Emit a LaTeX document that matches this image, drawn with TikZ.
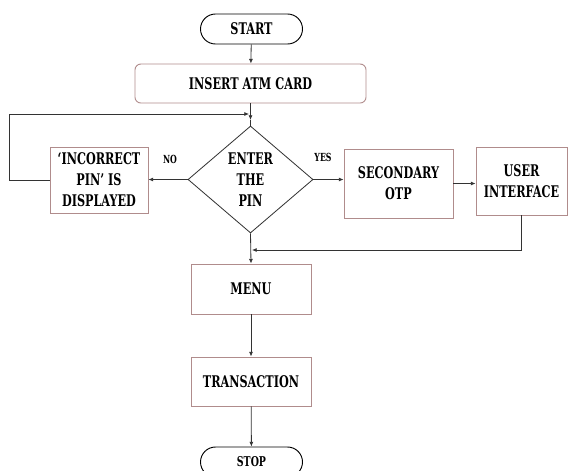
\documentclass[tikz,border=0pt]{standalone}
\usepackage{fontspec}
\newfontfamily\flowfont{DejaVu Serif}[FakeStretch=0.7]
\usetikzlibrary{shapes.geometric,shapes.misc,arrows.meta}
\definecolor{boxline}{HTML}{B08C8C}
\definecolor{arrline}{HTML}{333333}
\begin{document}
\begin{tikzpicture}[x=0.03cm,y=-0.03cm,
  font=\flowfont\bfseries\fontsize{13.7}{18}\selectfont,
  >={Latex[length=4pt,width=3.5pt]},
  terminal/.style={rounded rectangle,draw=black,line width=0.8pt,minimum width=3.06cm,minimum height=0.9cm,inner sep=0pt},
  stepbox/.style={rectangle,draw=boxline,line width=0.8pt,align=center,inner sep=0pt},
  choice/.style={diamond,draw=arrline,line width=0.7pt,align=center,inner sep=0pt,minimum width=3.75cm,minimum height=3.21cm},
  lbl/.style={font=\flowfont\bfseries\fontsize{9.5}{11}\selectfont},
  conn/.style={draw=arrline,line width=0.7pt}]
\clip (0,0) rectangle (568,470);
%
\node[terminal] (start) at (251.5,29) {START};
\node[stepbox,rounded corners=5pt,minimum width=6.93cm,minimum height=1.17cm] (insert) at (250.5,83.5) {INSERT ATM CARD};
\node[choice] (pin) at (250.5,179.5) {ENTER\\THE\\PIN};
%
\node[stepbox,minimum width=2.94cm,minimum height=1.98cm] (wrong) at (99,180) {‘INCORRECT\\PIN’ IS\\DISPLAYED};
\node[stepbox,minimum width=3.27cm,minimum height=2.07cm] (otp) at (398.5,183.5) {SECONDARY\\OTP};
\node[stepbox,minimum width=2.73cm,minimum height=2.04cm] (user) at (521.5,181) {USER\\INTERFACE};
%
\node[stepbox,minimum width=3.6cm,minimum height=1.5cm] (menu) at (251,289) {MENU};
\node[stepbox,minimum width=3.6cm,minimum height=1.47cm] (trans) at (251,381.5) {TRANSACTION};
\node[terminal,font=\flowfont\bfseries\fontsize{11.5}{14}\selectfont] (stop) at (251.5,462) {STOP};
%
\node[lbl] (no) at (170,159) {NO};
\node[lbl] (yes) at (323,157) {YES};
%
\coordinate (jtop) at (250.5,120);
\coordinate (jleft) at (9,180);
\coordinate (jloop) at (249,114);
\coordinate (jmerge) at (252,250);
%
\draw[conn,->] (start) -- (insert);
\draw[conn,->] (insert) -- (jtop);
\draw[conn] (jtop) -- (pin.north);
\draw[conn,->] (wrong.west) -- (jleft) |- (jloop);
\draw[conn,->] (pin.west) -- (pin.west -| wrong.east);
\draw[conn,->] (pin.east) -- (pin.east -| otp.west);
\draw[conn,->] (otp.east) -- (otp.east -| user.west);
\draw[conn,->] (user.south) |- (jmerge);
\draw[conn,->] (pin.south) -- (menu.north);
\draw[conn,->] (menu) -- (trans);
\draw[conn,->] (trans) -- (stop);
\end{tikzpicture}
\end{document}
